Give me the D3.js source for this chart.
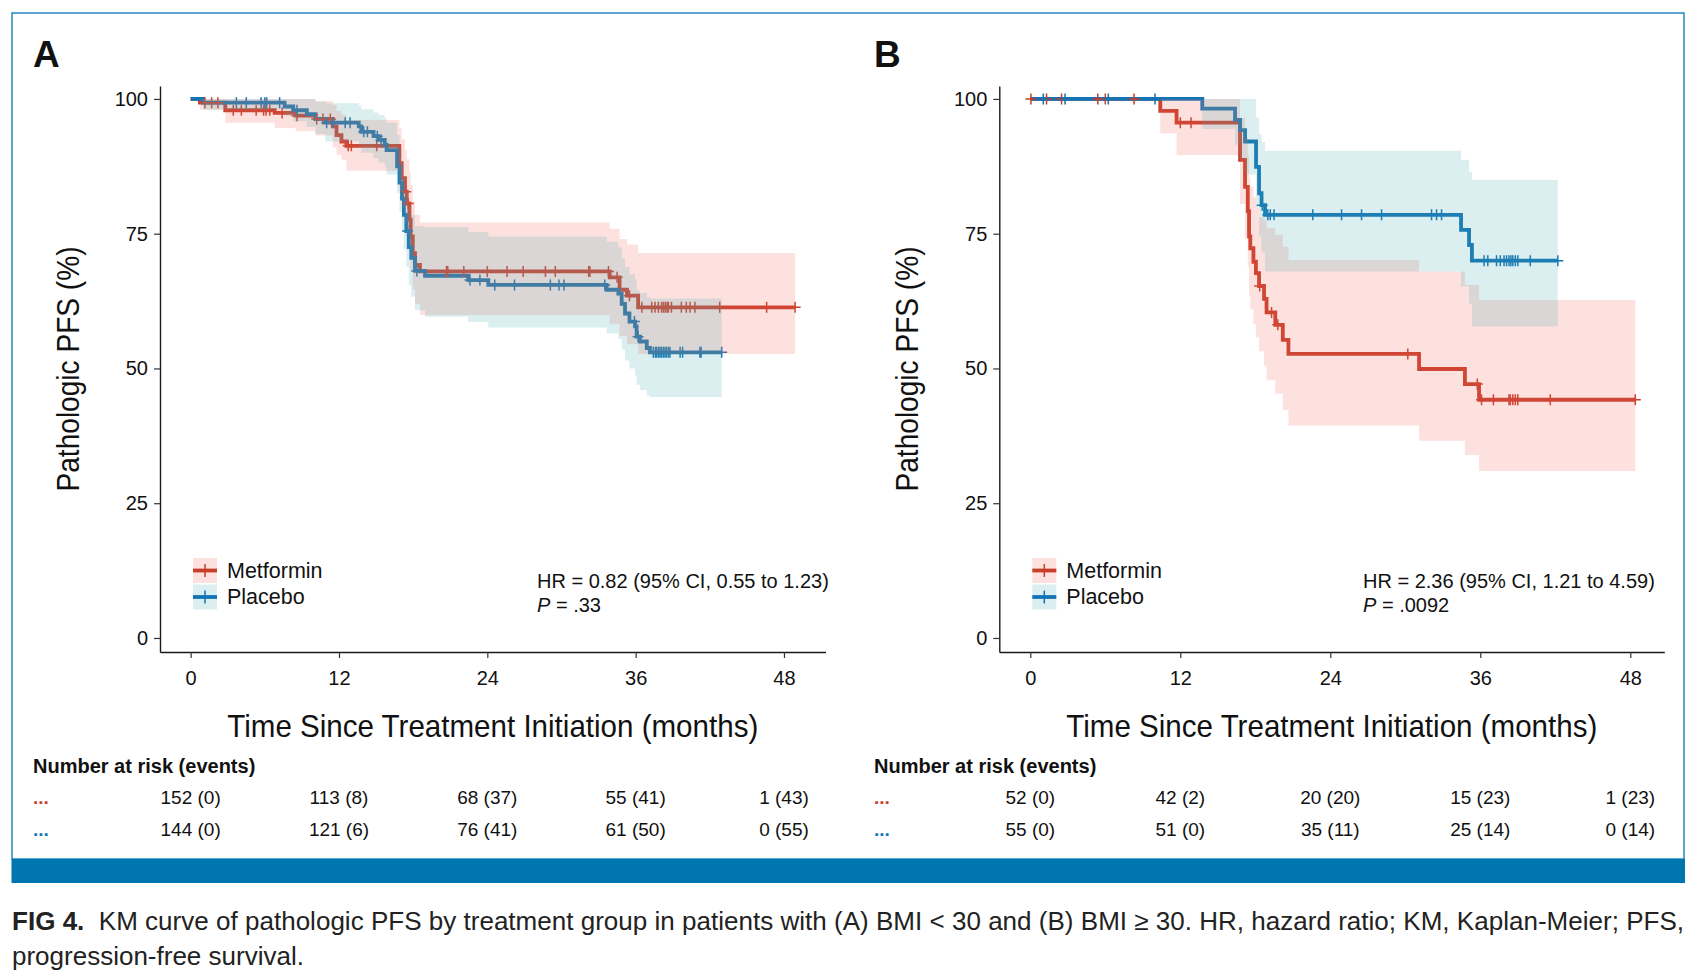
<!DOCTYPE html>
<html>
<head>
<meta charset="utf-8">
<script src="https://cdn.jsdelivr.net/npm/d3@7"></script>
<style>
  body { margin: 0; background: #fff; }
  svg { display: block; }
  text { font-family: "Liberation Sans", Arial, sans-serif; fill: #111; }
</style>
</head>
<body>
<svg id="fig" width="1692" height="978"></svg>
<script>
// ---- data (months, % PFS) ----
const xTicks = [0, 12, 24, 36, 48];
const yTicks = [0, 25, 50, 75, 100];

// Panel A, Metformin
const aMetT  = [0, 0.75, 2.8, 6.8, 8.5, 10.1, 11.5, 11.8, 12.2, 12.6, 16.88, 17.07, 17.34, 17.48, 17.7, 17.8, 17.97, 18.15, 18.55, 33.9, 34.7, 35.3, 36.2];
const aMetS  = [100, 99.3, 97.9, 97.4, 96.9, 96.3, 94.9, 93.3, 92.1, 91.3, 88.1, 85.3, 82.8, 80.6, 77.6, 74.5, 71.4, 69.2, 68.0, 66.9, 64.6, 63.5, 61.35];
const aMetLo = [100, 98.0, 95.6, 94.6, 94.0, 93.2, 91.0, 89.6, 88.7, 86.7, 83.0, 79.8, 77.0, 74.6, 71.3, 68.0, 64.7, 62.0, 59.9, 58.3, 56.0, 54.5, 52.7];
const aMetHi = [100, 100, 100, 100, 100, 99.6, 98.9, 97.8, 97.0, 96.1, 94.5, 92.5, 90.5, 88.8, 86.5, 84.0, 81.0, 78.5, 77.1, 75.9, 74.0, 73.0, 71.4];
const aMetEnd = 48.9;
const aMetCens = [1.15, 1.7, 2.2, 3.45, 4.1, 5.3, 5.9, 6.1, 6.4, 7.4, 8.6, 10.2, 10.7, 11.3, 12.75, 13.0, 15.05, 17.4, 17.6,
  20.7, 20.8, 22.1, 24.0, 25.6, 26.9, 28.7, 29.5, 32.2, 32.3, 33.8, 34.5, 35.5, 36.5, 37.3, 37.57, 37.84, 38.1, 38.25,
  38.4, 38.55, 38.65, 38.9, 39.7, 40.1, 40.4, 40.8, 42.8, 46.6, 48.9];

// Panel A, Placebo
const aPlaT  = [0, 1.0, 7.6, 8.3, 9.4, 10.1, 10.9, 13.6, 13.8, 14.8, 15.2, 15.7, 15.85, 16.7, 16.9, 17.1, 17.25, 17.45, 17.65, 17.85, 18.15, 18.96, 22.46, 24.08, 33.66, 34.6, 34.87, 35.14, 35.5, 35.95, 36.08, 36.35, 36.9, 37.16];
const aPlaS  = [100, 99.3, 98.6, 97.9, 97.2, 96.3, 95.6, 94.9, 93.9, 93.1, 92.4, 91.5, 90.5, 87.5, 84.5, 81.5, 78.5, 75.5, 72.5, 70.5, 68.1, 67.2, 66.4, 65.5, 64.6, 63.9, 62.0, 60.2, 58.7, 57.8, 55.9, 55.0, 53.8, 53.0];
const aPlaLo = [100, 98.0, 96.8, 95.8, 94.8, 93.5, 92.1, 91.2, 90.0, 89.0, 88.2, 87.4, 86.0, 82.5, 79.0, 75.5, 72.0, 68.8, 65.5, 63.3, 60.8, 59.6, 58.6, 57.6, 56.5, 55.5, 53.5, 51.5, 50.0, 48.5, 47.0, 46.0, 45.0, 44.7];
const aPlaHi = [100, 100, 100, 100, 100, 99.5, 99.2, 98.8, 98.1, 97.5, 97.0, 96.4, 95.6, 93.3, 90.8, 88.2, 85.6, 83.0, 80.3, 78.5, 76.4, 76.2, 75.3, 74.5, 73.5, 72.5, 70.5, 68.8, 67.5, 66.5, 64.5, 64.0, 63.2, 63.0];
const aPlaEnd = 42.96;
const aPlaCens = [3.7, 4.5, 5.7, 6.0, 6.15, 7.2, 8.6, 11.0, 11.5, 12.5, 12.9, 14.0, 14.3, 15.1, 15.4, 17.55, 18.3,
  22.6, 23.4, 24.6, 26.2, 29.1, 29.8, 30.2, 33.5, 35.9, 36.2, 37.43, 37.6, 37.7, 37.85, 37.97, 38.1, 38.24, 38.37,
  38.5, 38.65, 38.78, 39.6, 39.8, 41.2, 41.3, 42.96];

// Panel B, Metformin
const bMetT  = [0, 10.4, 11.7, 16.78, 17.18, 17.4, 17.5, 17.6, 17.85, 18.05, 18.3, 18.7, 18.9, 19.6, 20.2, 20.65, 31.1, 34.77, 35.9];
const bMetS  = [100, 97.8, 95.6, 88.7, 83.7, 79.2, 74.5, 72.3, 69.8, 67.7, 65.3, 62.9, 60.4, 58.1, 55.3, 52.7, 49.9, 47.1, 44.2];
const bMetLo = [100, 93.6, 89.6, 80.5, 74.0, 68.8, 63.5, 61.0, 58.2, 55.8, 53.2, 50.5, 47.8, 45.3, 42.3, 39.4, 36.6, 33.95, 31.0];
const bMetHi = [100, 100, 100, 96.5, 93.0, 89.5, 85.5, 83.8, 81.8, 80.0, 78.0, 77.5, 76.0, 74.8, 72.6, 70.1, 68.0, 65.5, 62.7];
const bMetEnd = 48.4;
const bMetCens = [0.05, 1.3, 2.5, 5.4, 6.0, 8.3, 12.0, 12.86, 18.35, 19.3, 19.8, 30.2, 35.76, 36.1, 37.05, 38.3, 38.4,
  38.6, 38.8, 39.0, 41.6, 48.4];

// Panel B, Placebo
const bPlaT  = [0, 13.76, 16.38, 16.78, 17.18, 18.06, 18.3, 18.5, 18.78, 34.46, 35.1, 35.33];
const bPlaS  = [100, 98.2, 96.1, 94.2, 92.1, 87.4, 82.5, 80.3, 78.5, 75.7, 72.9, 70.0];
const bPlaLo = [100, 94.4, 91.5, 88.8, 86.0, 80.0, 74.5, 71.5, 68.0, 65.2, 62.0, 57.8];
const bPlaHi = [100, 100, 100, 100, 100, 96.5, 93.5, 92.0, 90.4, 88.7, 86.5, 85.0];
const bPlaEnd = 42.2;
const bPlaCens = [1.04, 2.78, 6.24, 9.98, 18.55, 19.0, 19.2, 19.5, 22.6, 24.9, 26.5, 28.1, 32.1, 32.5, 32.9, 36.3,
  36.6, 37.3, 37.6, 37.9, 38.1, 38.3, 38.45, 38.6, 38.8, 39.0, 40.0, 42.2];

// number at risk (events)
const riskAMet = ["152 (0)", "113 (8)", "68 (37)", "55 (41)", "1 (43)"];
const riskAPla = ["144 (0)", "121 (6)", "76 (41)", "61 (50)", "0 (55)"];
const riskBMet = ["52 (0)", "42 (2)", "20 (20)", "15 (23)", "1 (23)"];
const riskBPla = ["55 (0)", "51 (0)", "35 (11)", "25 (14)", "0 (14)"];

const groups = ["Metformin", "Placebo"];
const hrA = "HR = 0.82 (95% CI, 0.55 to 1.23)", pA = " = .33";
const hrB = "HR = 2.36 (95% CI, 1.21 to 4.59)", pB = " = .0092";

// ---- styling ----
const lineColor = { Metformin: "#c73e2b", Placebo: "#1273b5" };
const ribbonColor = { Metformin: "rgb(245,105,90)", Placebo: "rgb(75,170,180)" };
const ribbonAlpha = 0.2;

const svg = d3.select("#fig");

function mk(name, t, s, lo, hi, end, cens) {
  return { name, t, s, lo, hi, end, cens };
}

const panels = [
  {
    label: "A", left: 160, right: 825.5, xDomain: [-2.48, 51.36], labelX: 33, hrX: 537,
    series: [mk("Metformin", aMetT, aMetS, aMetLo, aMetHi, aMetEnd, aMetCens),
             mk("Placebo", aPlaT, aPlaS, aPlaLo, aPlaHi, aPlaEnd, aPlaCens)],
    risk: [riskAMet, riskAPla], hr: hrA, p: pA,
  },
  {
    label: "B", left: 999.3, right: 1664.3, xDomain: [-2.48, 50.72], labelX: 874, hrX: 1363,
    series: [mk("Metformin", bMetT, bMetS, bMetLo, bMetHi, bMetEnd, bMetCens),
             mk("Placebo", bPlaT, bPlaS, bPlaLo, bPlaHi, bPlaEnd, bPlaCens)],
    risk: [riskBMet, riskBPla], hr: hrB, p: pB,
  },
];

// frame and bottom bar
svg.append("rect").attr("x", 12).attr("y", 13).attr("width", 1672).attr("height", 846)
  .attr("fill", "none").attr("stroke", "#2a84c0").attr("stroke-width", 1.5);
svg.append("rect").attr("x", 11.5).attr("y", 859).attr("width", 1673.5).attr("height", 24)
  .attr("fill", "#0076b0");

function drawPanel(p) {
  const g = svg.append("g");
  const x = d3.scaleLinear().domain(p.xDomain).range([p.left, p.right]);
  const y = d3.scaleLinear().domain([-2.6, 102.4]).range([652, 86]);

  // panel letter
  g.append("text").attr("x", p.labelX).attr("y", 67)
    .style("font-size", "37px").style("font-weight", "bold").text(p.label);

  // axes
  const xa = g.append("g").attr("transform", "translate(0,652)")
    .call(d3.axisBottom(x).tickValues(xTicks).tickSize(6).tickSizeOuter(0).tickPadding(13));
  const ya = g.append("g").attr("transform", `translate(${p.left},0)`)
    .call(d3.axisLeft(y).tickValues(yTicks).tickSize(6).tickSizeOuter(0).tickPadding(6));
  [xa, ya].forEach(a => {
    a.attr("font-family", null).attr("font-size", null);
    a.select(".domain").attr("stroke", "#1a1a1a").attr("stroke-width", 1.4);
    a.selectAll(".tick line").attr("stroke", "#333").attr("stroke-width", 1.2);
    a.selectAll(".tick text").style("font-size", "20px").attr("fill", "#111");
  });

  // axis titles (condensed face in the original: squeeze to its width)
  g.append("text")
    .attr("transform", `translate(${p.left - 81},369) rotate(-90)`)
    .attr("text-anchor", "middle")
    .attr("textLength", 245).attr("lengthAdjust", "spacingAndGlyphs")
    .style("font-size", "32px")
    .text("Pathologic PFS (%)");
  g.append("text")
    .attr("x", (p.left + p.right) / 2).attr("y", 737)
    .attr("text-anchor", "middle")
    .attr("textLength", 531).attr("lengthAdjust", "spacingAndGlyphs")
    .style("font-size", "32px")
    .text("Time Since Treatment Initiation (months)");

  const line = d3.line().curve(d3.curveStepAfter).x(d => x(d.t)).y(d => y(d.s));
  const area = d3.area().curve(d3.curveStepAfter)
    .x(d => x(d.t)).y0(d => y(d.lo)).y1(d => y(d.hi));

  p.series.forEach(sr => {
    const pts = sr.t.map((t, i) => ({ t, s: sr.s[i], lo: sr.lo[i], hi: sr.hi[i] }));
    pts.push({ ...pts[pts.length - 1], t: sr.end });
    sr.pts = pts;
  });

  // survival lines
  p.series.forEach(sr => {
    g.append("path").datum(sr.pts).attr("d", line)
      .attr("fill", "none").attr("stroke", lineColor[sr.name]).attr("stroke-width", 3.8);
  });

  // censor marks
  p.series.forEach(sr => {
    const sAt = c => {
      let v = sr.s[0];
      sr.t.forEach((t, i) => { if (t <= c) v = sr.s[i]; });
      return v;
    };
    g.append("g").selectAll("path").data(sr.cens).join("path")
      .attr("d", c => {
        const cx = x(c), cy = y(sAt(c));
        return `M${cx - 5.5},${cy}H${cx + 5.5}M${cx},${cy - 5.5}V${cy + 5.5}`;
      })
      .attr("stroke", lineColor[sr.name]).attr("stroke-width", 1.5).attr("fill", "none");
  });

  // confidence ribbons (drawn on top, translucent)
  p.series.forEach(sr => {
    g.append("path").datum(sr.pts).attr("d", area)
      .attr("fill", ribbonColor[sr.name]).attr("fill-opacity", ribbonAlpha).attr("stroke", "none");
  });

  // legend
  groups.forEach((name, i) => {
    const lx = p.left + 33, ly = 558 + i * 26.5;
    g.append("rect").attr("x", lx).attr("y", ly).attr("width", 24).attr("height", 25)
      .attr("fill", ribbonColor[name]).attr("fill-opacity", ribbonAlpha);
    g.append("path")
      .attr("d", `M${lx},${ly + 12.5}H${lx + 24}`)
      .attr("stroke", lineColor[name]).attr("stroke-width", 3.8);
    g.append("path")
      .attr("d", `M${lx + 12},${ly + 6}V${ly + 19}`)
      .attr("stroke", lineColor[name]).attr("stroke-width", 1.5);
    g.append("text").attr("x", p.left + 67).attr("y", ly + 19.5)
      .style("font-size", "21.5px").text(name);
  });

  // hazard ratio
  g.append("text").attr("x", p.hrX).attr("y", 588).style("font-size", "20px").text(p.hr);
  const pt = g.append("text").attr("x", p.hrX).attr("y", 612).style("font-size", "20px");
  pt.append("tspan").style("font-style", "italic").text("P");
  pt.append("tspan").text(p.p);

  // number at risk table
  g.append("text").attr("x", p.labelX).attr("y", 773)
    .style("font-size", "20px").style("font-weight", "bold").text("Number at risk (events)");
  p.risk.forEach((row, i) => {
    const ry = 804 + i * 31.5;
    g.append("text").attr("x", p.labelX).attr("y", ry)
      .style("font-size", "19px").style("font-weight", "bold")
      .style("fill", lineColor[groups[i]]).text("...");
    g.append("g").selectAll("text").data(row).join("text")
      .attr("x", (d, j) => x(xTicks[j])).attr("y", ry)
      .attr("text-anchor", "middle").style("font-size", "19px").text(d => d);
  });
}

panels.forEach(drawPanel);

// caption
const cap = svg.append("text").attr("x", 12).attr("y", 930)
  .attr("textLength", 1672).attr("lengthAdjust", "spacing")
  .style("font-size", "26px").style("fill", "#222");
cap.append("tspan").style("font-weight", "bold").text("FIG 4.");
cap.append("tspan").text("\u00a0 KM curve of pathologic PFS by treatment group in patients with (A) BMI < 30 and (B) BMI \u2265 30. HR, hazard ratio; KM, Kaplan-Meier; PFS,");
svg.append("text").attr("x", 12).attr("y", 965)
  .style("font-size", "26px").style("fill", "#222").text("progression-free survival.");
</script>
</body>
</html>
